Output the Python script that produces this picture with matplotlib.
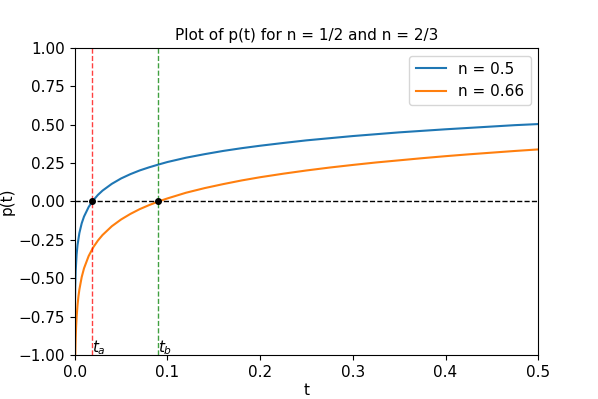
import numpy as np
import matplotlib
matplotlib.use('Agg')
import matplotlib.pyplot as plt

plt.rcParams['font.size'] = 11

# values
t1 = [0.00002, 0.00005, 0.0001, 0.0002, 0.0005, 0.001, 0.002, 0.003, 0.005, 0.0075,
      0.01, 0.015, 0.0189, 0.025, 0.03, 0.04, 0.05, 0.06, 0.07, 0.08, 0.09, 0.1,
      0.12, 0.14, 0.16, 0.18, 0.2, 0.225, 0.25, 0.275, 0.3, 0.325, 0.35, 0.375,
      0.4, 0.425, 0.45, 0.475, 0.5]
p1 = [-1.055, -0.914, -0.807, -0.700, -0.559, -0.453, -0.346, -0.283, -0.205, -0.142,
      -0.098, -0.036, 0.0, 0.043, 0.071, 0.115, 0.150, 0.178, 0.202, 0.222, 0.240, 0.257,
      0.285, 0.308, 0.329, 0.347, 0.363, 0.381, 0.398, 0.412, 0.426, 0.438, 0.450, 0.460,
      0.470, 0.479, 0.488, 0.497, 0.504]

t2 = [0.0005, 0.0007, 0.001, 0.0015, 0.002, 0.003, 0.004, 0.005, 0.0075, 0.01,
      0.015, 0.02, 0.025, 0.03, 0.04, 0.05, 0.06, 0.07, 0.08, 0.0902, 0.1,
      0.12, 0.14, 0.16, 0.18, 0.2, 0.225, 0.25, 0.275, 0.3, 0.325, 0.35, 0.375,
      0.4, 0.425, 0.45, 0.475, 0.5]
p2 = [-1.029, -0.962, -0.891, -0.811, -0.754, -0.674, -0.617, -0.573, -0.492, -0.435,
      -0.355, -0.298, -0.254, -0.218, -0.161, -0.117, -0.081, -0.050, -0.024, 0.0, 0.020,
      0.057, 0.087, 0.113, 0.137, 0.158, 0.181, 0.202, 0.221, 0.238, 0.254, 0.268, 0.282,
      0.295, 0.307, 0.318, 0.329, 0.339]

t_a = 0.0189
t_b = 0.0902

fig = plt.figure(figsize=(5.98, 3.99), dpi=100)
plt.plot(t1, p1, label='n = 0.5')
plt.plot(t2, p2, label='n = 0.66')
plt.axhline(0, color='black', linestyle='--', linewidth=1)
plt.axvline(t_a, color='red', linestyle='--', linewidth=1, alpha=0.75)
plt.axvline(t_b, color='green', linestyle='--', linewidth=1, alpha=0.75)
plt.plot([t_a, t_b], [0, 0], 'ko', markersize=4)
plt.text(t_a, -0.98, r'$t_a$', fontsize=11)
plt.text(t_b, -0.98, r'$t_b$', fontsize=11)
plt.xlim(0, 0.5)
plt.ylim(-1, 1)
plt.xlabel('t', labelpad=2)
plt.ylabel('p(t)', labelpad=3)
plt.title('Plot of p(t) for n = 1/2 and n = 2/3', fontsize=11)
plt.legend(loc='upper right')
plt.savefig('out.png')
